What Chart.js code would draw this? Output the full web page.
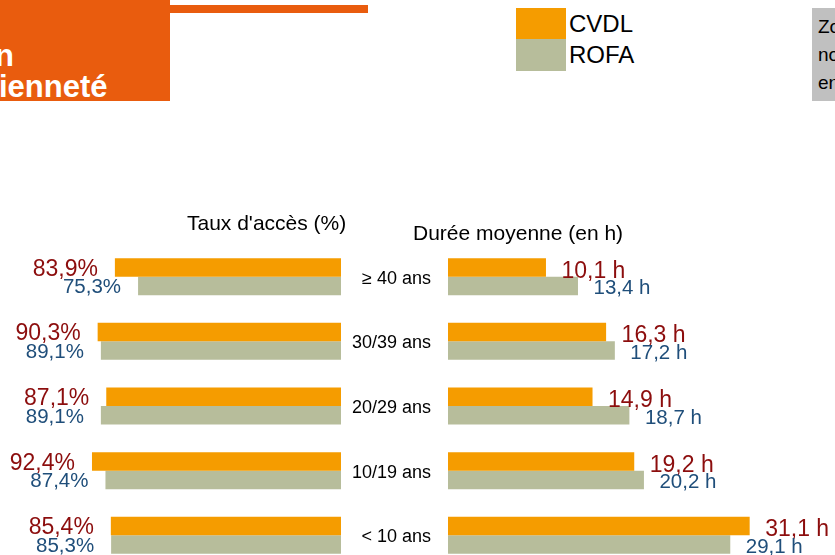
<!DOCTYPE html>
<html><head><meta charset="utf-8">
<script src="https://cdn.jsdelivr.net/npm/chart.js@4/dist/chart.umd.min.js"></script>
<style>
html,body{margin:0;padding:0;width:835px;height:555px;overflow:hidden;background:#fff;font-family:"Liberation Sans",Arial,sans-serif;}
.abs{position:absolute;white-space:nowrap;}
canvas{position:absolute;left:0;top:0;}
</style></head><body>
<div class="abs" style="left:0;top:0;width:170px;height:101px;background:#E95C0E"></div>
<div class="abs" style="left:170px;top:5px;width:198px;height:7.5px;background:#E95C0E"></div>
<div class="abs" style="left:-5px;top:40.3px;font:bold 31px/31px 'Liberation Sans',Arial;color:#fff">n</div>
<div class="abs" style="left:-1px;top:70.8px;font:bold 31px/31px 'Liberation Sans',Arial;color:#fff">ienneté</div>

<div class="abs" style="left:516px;top:8px;width:50px;height:31px;background:#F59C00"></div>
<div class="abs" style="left:516px;top:39px;width:50px;height:31.5px;background:#B7BD9B"></div>
<div class="abs" style="left:569px;top:11.8px;font:24px/24px 'Liberation Sans',Arial;color:#000">CVDL</div>
<div class="abs" style="left:569px;top:43.3px;font:24px/24px 'Liberation Sans',Arial;color:#000">ROFA</div>

<div class="abs" style="left:812px;top:8px;width:30px;height:93px;background:#C0C0C0"></div>
<div class="abs" style="left:818px;top:16.9px;font:19px/19px 'Liberation Sans',Arial;color:#000">Zo</div>
<div class="abs" style="left:818px;top:45.4px;font:19px/19px 'Liberation Sans',Arial;color:#000">no</div>
<div class="abs" style="left:818px;top:73.4px;font:19px/19px 'Liberation Sans',Arial;color:#000">en</div>

<canvas id="left" width="835" height="600"></canvas>
<canvas id="right" width="835" height="600"></canvas>

<div class="abs" style="left:187px;top:212.2px;font:21px/21px 'Liberation Sans',Arial;color:#000">Taux d'accès (%)</div>
<div class="abs" style="left:413px;top:222.2px;font:21px/21px 'Liberation Sans',Arial;color:#000">Durée moyenne (en h)</div>

<script>
const categories = ['≥ 40 ans', '30/39 ans', '20/29 ans', '10/19 ans', '< 10 ans'];
const seriesNames = ['CVDL', 'ROFA'];
const accesCVDL = [83.9, 90.3, 87.1, 92.4, 85.4];
const accesROFA = [75.3, 89.1, 89.1, 87.4, 85.3];
const dureeCVDL = [10.1, 16.3, 14.9, 19.2, 31.1];
const dureeROFA = [13.4, 17.2, 18.7, 20.2, 29.1];

const COL_CVDL = '#F59C00', COL_ROFA = '#B7BD9B';
const LBL_CVDL = '#8C0D0D', LBL_ROFA = '#1F4E7A';
const FONT = "'Liberation Sans', Arial, sans-serif";
const H = 600;
const TOP = 244.4, BOTTOM = 567.6;

function fmt(v, suffix) { return v.toFixed(1).replace('.', ',') + suffix; }

function labelPlugin(suffix, side) {
  return {
    id: 'valueLabels',
    afterDatasetsDraw(chart) {
      const ctx = chart.ctx;
      ctx.save();
      chart.data.datasets.forEach((ds, di) => {
        const meta = chart.getDatasetMeta(di);
        const size = di === 0 ? 23 : 20.5;
        ctx.font = size + 'px ' + FONT;
        ctx.fillStyle = di === 0 ? LBL_CVDL : LBL_ROFA;
        ctx.textBaseline = 'alphabetic';
        meta.data.forEach((bar, i) => {
          const txt = fmt(ds.data[i], suffix);
          const yOff = side === 'right' ? (di === 0 ? 2 : 1) : 0;
          const y = bar.y + 0.358 * size + yOff;
          if (side === 'left') {
            ctx.textAlign = 'right';
            ctx.fillText(txt, bar.x - 17, y);
          } else {
            ctx.textAlign = 'left';
            ctx.fillText(txt, bar.x + 15.5, y);
          }
        });
      });
      ctx.restore();
    }
  };
}

function datasets(a, b) {
  return [
    { label: seriesNames[0], data: a, backgroundColor: COL_CVDL, borderWidth: 0 },
    { label: seriesNames[1], data: b, backgroundColor: COL_ROFA, borderWidth: 0 }
  ];
}

const common = {
  indexAxis: 'y',
  responsive: false,
  animation: false,
  datasets: { bar: { categoryPercentage: 0.572, barPercentage: 1 } },
  plugins: { legend: { display: false }, tooltip: { enabled: false }, title: { display: false } }
};

new Chart(document.getElementById('left'), {
  type: 'bar',
  data: { labels: categories, datasets: datasets(accesCVDL, accesROFA) },
  options: Object.assign({}, common, {
    layout: { padding: { left: 71.5, right: 835 - 341, top: TOP, bottom: H - BOTTOM } },
    scales: {
      x: { display: false, reverse: true, min: 0, max: 100 },
      y: { display: false }
    }
  }),
  plugins: [labelPlugin('%', 'left')]
});

new Chart(document.getElementById('right'), {
  type: 'bar',
  data: { labels: categories, datasets: datasets(dureeCVDL, dureeROFA) },
  options: Object.assign({}, common, {
    layout: { padding: { left: 340, right: 835 - 787.5, top: TOP, bottom: H - BOTTOM } },
    scales: {
      x: { display: false, min: 0, max: 35 },
      y: {
        display: true,
        position: 'left',
        grid: { display: false, drawTicks: false },
        border: { display: false },
        afterFit: s => { s.width = 108; },
        ticks: { autoSkip: false, padding: 17, labelOffset: 2, color: '#000', font: { family: FONT, size: 18 } }
      }
    }
  }),
  plugins: [labelPlugin(' h', 'right')]
});
</script>
</body></html>
